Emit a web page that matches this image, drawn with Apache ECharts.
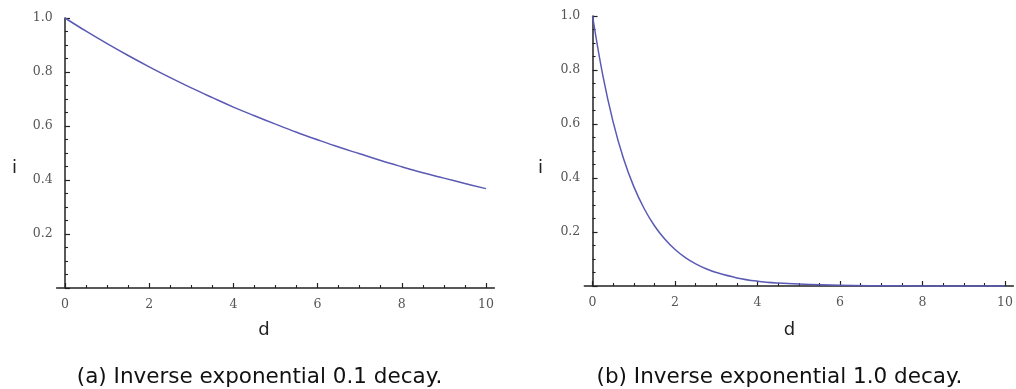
<!DOCTYPE html>
<html>
<head>
<meta charset="utf-8">
<script src="https://cdn.jsdelivr.net/npm/echarts@6/dist/echarts.min.js"></script>
<style>
html,body{margin:0;padding:0;background:#fff;}
#chart{width:1016px;height:389px;}
</style>
</head>
<body>
<div id="chart"></div>
<script>
// ---- data ----
const dA = [0, 0.5, 1, 1.5, 2, 2.5, 3, 3.5, 4, 4.5, 5, 5.5, 6, 6.5, 7, 7.5, 8, 8.5, 9, 9.5, 10];
const iA = [1.000, 0.951, 0.905, 0.861, 0.819, 0.779, 0.741, 0.705, 0.670, 0.638, 0.607, 0.577, 0.549, 0.522, 0.497, 0.472, 0.449, 0.427, 0.407, 0.387, 0.368];
const dB = [0, 0.25, 0.5, 0.75, 1, 1.25, 1.5, 1.75, 2, 2.25, 2.5, 2.75, 3, 3.5, 4, 4.5, 5, 6, 7, 8, 9, 10];
const iB = [1.000, 0.779, 0.607, 0.472, 0.368, 0.287, 0.223, 0.174, 0.135, 0.105, 0.082, 0.064, 0.050, 0.030, 0.018, 0.011, 0.007, 0.0025, 0.001, 0.0003, 0.0001, 0.00005];
const xTicks = [0, 2, 4, 6, 8, 10];
const yTicks = [0.2, 0.4, 0.6, 0.8, 1.0];
const xName = 'd';
const yName = 'i';
const captions = ['(a) Inverse exponential 0.1 decay.', '(b) Inverse exponential 1.0 decay.'];

// ---- helpers ----
const xMinor = [];
for (let k = 0; k < xTicks.length - 1; k++) {
  const a = xTicks[k], b = xTicks[k + 1];
  for (let j = 1; j < 4; j++) xMinor.push(a + (b - a) * j / 4);
}
const lineColor = '#5a5ab4';
const axisColor = '#222';
const labelFont = { fontFamily: '"DejaVu Serif"', fontSize: 12.5, color: '#555' };

function zip(xs, ys) { return xs.map((x, k) => [x, ys[k]]); }

function xAxesFor(gi) {
  return [
    {
      gridIndex: gi, type: 'value', min: -0.2, max: 10.2,
      axisLine: { show: true, onZero: true, lineStyle: { color: axisColor, width: 1.5 } },
      axisTick: { show: true, inside: true, length: 5, customValues: xTicks, lineStyle: { color: axisColor, width: 1.2 } },
      axisLabel: Object.assign({ show: true, customValues: xTicks, margin: 10, formatter: v => String(v) }, labelFont),
      splitLine: { show: false }
    },
    {
      gridIndex: gi, type: 'value', min: -0.2, max: 10.2, position: 'bottom',
      axisLine: { show: false, onZero: true },
      axisTick: { show: true, inside: true, length: 3, customValues: xMinor, lineStyle: { color: axisColor, width: 1.1 } },
      axisLabel: { show: false },
      splitLine: { show: false }
    }
  ];
}
function yAxisFor(gi) {
  return {
    gridIndex: gi, type: 'value', min: 0, max: 1, interval: 0.2,
    axisLine: { show: true, onZero: true, onZeroAxisIndex: gi * 2, lineStyle: { color: axisColor, width: 1.5 } },
    axisTick: { show: true, inside: true, length: 5, lineStyle: { color: axisColor, width: 1.2 } },
    minorTick: { show: true, splitNumber: 4, length: 3, lineStyle: { color: axisColor, width: 1.1 } },
    axisLabel: Object.assign({ margin: 4, formatter: v => (yTicks.some(t => Math.abs(t - v) < 1e-9) ? v.toFixed(1) : '') }, labelFont),
    splitLine: { show: false }
  };
}

const nameFont = '18px "DejaVu Sans"';
const capFont = '21.5px "DejaVu Sans"';
function txt(x, y, text, font, fill) {
  return { type: 'text', x: x, y: y, style: { text: text, font: font, fill: fill, textAlign: 'center', textVerticalAlign: 'middle' } };
}

const chart = echarts.init(document.getElementById('chart'), null, { renderer: 'canvas' });
chart.setOption({
  backgroundColor: '#fff',
  animation: false,
  grid: [
    { left: 56.6, top: 18, width: 437.8, height: 270 },
    { left: 584.3, top: 16, width: 437.1, height: 270 }
  ],
  xAxis: xAxesFor(0).concat(xAxesFor(1)),
  yAxis: [yAxisFor(0), yAxisFor(1)],
  series: [
    { type: 'line', xAxisIndex: 0, yAxisIndex: 0, data: zip(dA, iA), showSymbol: false, smooth: 0.4,
      lineStyle: { color: lineColor, width: 1.5 }, itemStyle: { color: lineColor }, clip: false },
    { type: 'line', xAxisIndex: 2, yAxisIndex: 1, data: zip(dB, iB), showSymbol: false, smooth: 0.4,
      lineStyle: { color: lineColor, width: 1.5 }, itemStyle: { color: lineColor }, clip: false }
  ],
  graphic: [
    txt(14.5, 168, yName, nameFont, '#222'),
    txt(540.5, 168, yName, nameFont, '#222'),
    txt(264, 330, xName, nameFont, '#222'),
    txt(789.5, 330, xName, nameFont, '#222'),
    txt(259.5, 377, captions[0], capFont, '#111'),
    txt(779.5, 377, captions[1], capFont, '#111')
  ]
});
</script>
</body>
</html>
